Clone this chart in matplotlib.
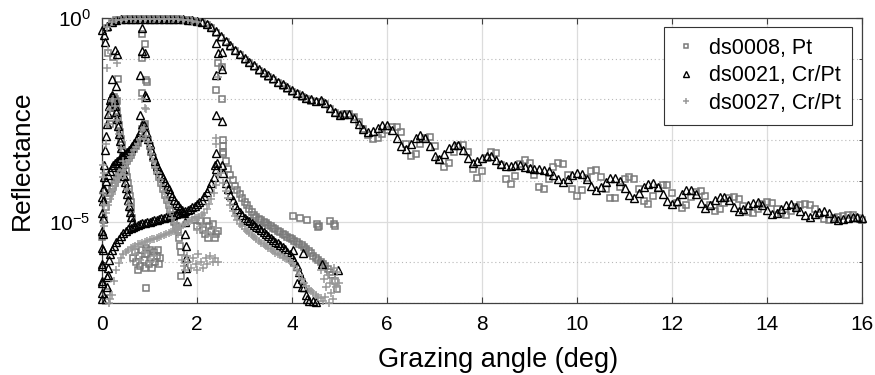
import numpy as np
import matplotlib
matplotlib.use('Agg')
import matplotlib.pyplot as plt
from matplotlib.ticker import FixedLocator, LogFormatterSciNotation, NullFormatter

plt.rcParams['font.family'] = ['Liberation Sans', 'DejaVu Sans']
plt.rcParams['mathtext.fontset'] = 'custom'
plt.rcParams['mathtext.rm'] = 'Liberation Sans'
plt.rcParams['mathtext.it'] = 'Liberation Sans:italic'

# ---- values: log10(reflectance) ----
# specular curves, sampled every 0.1 deg from 0.1 deg
main_start, main_step = 0.1, 0.1
ds0021_main = [
    -0.20, -0.10, -0.05, -0.03, -0.02, -0.02, -0.02, -0.02, -0.02, -0.02,
    -0.02, -0.02, -0.02, -0.02, -0.02, -0.02, -0.03, -0.04, -0.06, -0.08,
    -0.11, -0.15, -0.22, -0.32, -0.45, -0.56, -0.67, -0.78, -0.88, -0.98,
    -1.07, -1.16, -1.25, -1.33, -1.41, -1.48, -1.56, -1.63, -1.70, -1.77,
    -1.83, -1.90, -1.96, -2.00, -2.03, -2.02, -2.08, -2.20, -2.30, -2.38,
    -2.36, -2.35, -2.45, -2.60, -2.72, -2.80, -2.78, -2.70, -2.63, -2.63,
    -2.75, -2.95, -3.15, -3.22, -3.10, -2.95, -2.88, -2.95, -3.15, -3.38,
    -3.47, -3.35, -3.20, -3.12, -3.12, -3.25, -3.45, -3.55, -3.52, -3.45,
    -3.40, -3.40, -3.48, -3.58, -3.64, -3.63, -3.60, -3.62, -3.66, -3.68,
    -3.70, -3.72, -3.74, -3.77, -3.85, -3.95, -4.02, -3.95, -3.85, -3.80,
    -3.82, -3.95, -4.12, -4.22, -4.15, -4.02, -3.93, -3.92, -4.00, -4.18,
    -4.35, -4.41, -4.30, -4.15, -4.07, -4.06, -4.15, -4.32, -4.50, -4.58,
    -4.50, -4.33, -4.23, -4.22, -4.32, -4.55, -4.66, -4.60, -4.48, -4.40,
    -4.39, -4.48, -4.65, -4.75, -4.70, -4.60, -4.54, -4.53, -4.60, -4.72,
    -4.82, -4.80, -4.68, -4.60, -4.58, -4.63, -4.75, -4.85, -4.88, -4.82,
    -4.76, -4.75, -4.80, -4.90, -4.95, -4.94, -4.90, -4.88, -4.88, -4.90]
ds0008_main = [
    -0.25, -0.12, -0.06, -0.04, -0.03, -0.03, -0.03, -0.03, -0.03, -0.03,
    -0.03, -0.03, -0.03, -0.03, -0.03, -0.03, -0.04, -0.05, -0.07, -0.09,
    -0.12, -0.17, -0.25, -0.36, -0.49, -0.60, -0.71, -0.82, -0.92, -1.02,
    -1.11, -1.20, -1.29, -1.37, -1.45, -1.52, -1.60, -1.67, -1.74, -1.81,
    -1.87, -1.94, -2.00, -2.04, -2.07, -2.06, -2.12, -2.24, -2.33, -2.38,
    -2.35, -2.36, -2.42, -2.55, -2.72, -2.88, -2.97, -2.95, -2.85, -2.74,
    -2.68, -2.67, -2.80, -3.10, -3.38, -3.35, -3.10, -2.95, -2.93, -3.15,
    -3.48, -3.67, -3.55, -3.30, -3.14, -3.12, -3.30, -3.70, -3.92, -3.75,
    -3.45, -3.29, -3.32, -3.60, -3.95, -4.08, -3.88, -3.58, -3.48, -3.55,
    -3.85, -4.15, -4.20, -3.95, -3.65, -3.56, -3.58, -3.85, -4.20, -4.38,
    -4.22, -3.92, -3.76, -3.74, -3.90, -4.20, -4.43, -4.42, -4.15, -3.95,
    -3.90, -3.95, -4.20, -4.50, -4.57, -4.38, -4.17, -4.10, -4.10, -4.30,
    -4.55, -4.66, -4.60, -4.40, -4.28, -4.26, -4.38, -4.60, -4.75, -4.70,
    -4.55, -4.42, -4.39, -4.45, -4.62, -4.76, -4.78, -4.68, -4.57, -4.53,
    -4.55, -4.68, -4.80, -4.83, -4.75, -4.65, -4.60, -4.58, -4.60, -4.70,
    -4.85, -4.93, -4.95, -4.90, -4.88, -4.86, -4.84, -4.84, -4.90, -4.96]
ds0027_main = [
    -0.22, -0.11, -0.06, -0.04, -0.03, -0.03, -0.03, -0.03, -0.03, -0.03,
    -0.03, -0.03, -0.03, -0.03, -0.03, -0.03, -0.04, -0.05, -0.07, -0.09]

# ds0021 (Cr/Pt) scans
ds0021_r1_x = [0.01, 0.01, 0.01, 0.02, 0.02, 0.02, 0.03, 0.03, 0.04, 0.05,
               0.07, 0.09, 0.11, 0.13, 0.15, 0.17, 0.19, 0.21, 0.23, 0.25,
               0.27, 0.29, 0.31, 0.33, 0.35, 0.37, 0.39, 0.41, 0.43, 0.45,
               0.47, 0.49, 0.51, 0.53, 0.55, 0.57, 0.59, 0.61, 0.63]
ds0021_r1_y = [-6.9, -6.5, -6.1, -5.7, -5.3, -4.9, -4.5, -4.2, -3.9, -3.6,
               -3.25, -2.9, -2.6, -2.35, -2.15, -2.02, -1.93, -1.9, -1.93, -2.02,
               -2.15, -2.3, -2.48, -2.66, -2.84, -3.02, -3.2, -3.38, -3.55, -3.72,
               -3.88, -4.03, -4.18, -4.33, -4.48, -4.62, -4.76, -4.88, -5.0]
ds0021_r2_left = [-4.2, -4.0, -3.85, -3.75, -3.67, -3.6, -3.55, -3.52, -3.48, -3.43,
                  -3.38, -3.33, -3.28, -3.23, -3.19, -3.14, -3.08, -3.0, -2.92, -2.8,
                  -2.62]                                   # 0.04 .. 0.84, step 0.04
ds0021_r2_right = [-2.62, -2.8, -2.97, -3.1, -3.25, -3.4, -3.52, -3.63, -3.73, -3.83,
                   -3.93, -4.03, -4.12, -4.2, -4.3, -4.38, -4.46, -4.54, -4.6, -4.66,
                   -4.72, -4.8]                            # 0.88 .. 1.72, step 0.04
ds0021_r3_left = [-5.7, -5.6, -5.5, -5.42, -5.35, -5.28, -5.23, -5.19, -5.16, -5.13,
                  -5.1, -5.08, -5.06, -5.04, -5.03, -5.01, -5.0, -4.98, -4.97, -4.95,
                  -4.94, -4.92, -4.91, -4.89, -4.88, -4.86, -4.84, -4.82, -4.8, -4.78,
                  -4.76, -4.74, -4.71, -4.68, -4.65, -4.61, -4.57, -4.52, -4.46, -4.38,
                  -4.28, -4.17, -4.05, -3.9, -3.7]         # 0.2 .. 2.4, step 0.05
ds0021_r3_right = [-3.8, -4.05, -4.2, -4.35, -4.48, -4.6, -4.7, -4.77, -4.84, -4.9,
                   -4.95, -4.99, -5.04, -5.08, -5.13, -5.17, -5.21, -5.26, -5.3, -5.35,
                   -5.4, -5.45, -5.49, -5.53, -5.58, -5.63, -5.68, -5.74, -5.8, -5.88,
                   -5.98, -6.1, -6.25, -6.42, -6.6, -6.8, -6.95]  # 2.55 .. 4.35
ds0021_pts_x = [0.00, 0.05, 0.06, 0.27, 0.31, 0.30, 0.20,
                0.00, 0.00, 0.00, 0.00, 0.13, 0.01, 0.01, 0.00,
                0.84, 0.84, 0.90, 0.80, 0.90, 0.80, 0.93,
                1.74, 1.75, 1.76, 1.77, 1.77, 1.78,
                2.41, 2.45, 2.52, 2.41, 2.52, 2.41, 2.52, 2.41, 2.38, 2.52, 2.43,
                0.09, 0.10, 0.11, 0.12, 0.14, 0.17,
                4.02, 4.23, 4.63, 4.97, 4.10, 4.20, 4.31, 4.44, 4.50]
ds0021_pts_y = [-0.30, -0.42, -0.60, -0.78, -0.88, -1.68, -1.50,
                -5.24, -5.64, -6.05, -6.45, -6.30, -6.75, -4.40, -4.80,
                -0.25, -0.80, -0.87, -1.40, -1.89, -2.38, -1.93,
                -5.00, -5.30, -5.60, -5.90, -6.15, -6.45,
                -0.62, -0.87, -0.83, -1.40, -1.25, -2.38, -2.54, -3.32, -3.60, -3.60, -3.55,
                -6.90, -6.60, -6.35, -6.15, -5.95, -5.80,
                -5.69, -5.77, -6.05, -6.18, -6.50, -6.60, -6.90, -6.96, -6.97]

# ds0008 (Pt) scans
ds0008_r1 = [-2.6, -2.35, -2.15, -2.03, -1.97, -1.95, -2.0, -2.12, -2.28, -2.45,
             -2.62, -2.8, -2.97, -3.13, -3.3, -3.45, -3.6, -3.75, -3.9, -4.05,
             -4.2, -4.36, -4.52, -4.7, -4.9]               # 0.16 .. 0.64, step 0.02
ds0008_r2 = [-4.95, -4.65, -4.45, -4.3, -4.2, -4.12, -4.05, -3.95, -3.85, -3.75,
             -3.67, -3.6, -3.52, -3.45, -3.37, -3.3, -3.22, -3.15, -3.08, -2.95,
             -2.72, -2.66, -2.85, -3.0, -3.15, -3.3, -3.45, -3.6, -3.75, -3.9,
             -4.05, -4.2, -4.35, -4.48, -4.6, -4.72, -4.85, -5.0, -5.1, -5.2]  # 0.04 .. 1.6
ds0008_r3 = [-3.35, -3.52, -3.7, -3.85, -3.99, -4.12, -4.23, -4.33, -4.43, -4.52,
             -4.6, -4.68, -4.76, -4.84, -4.89, -4.93, -4.97, -5.01, -5.04, -5.08,
             -5.11, -5.15, -5.19, -5.23, -5.26, -5.3, -5.33, -5.37, -5.4, -5.43,
             -5.47, -5.51, -5.55, -5.58, -5.62, -5.67, -5.72, -5.78, -5.84, -5.89,
             -5.94, -5.99, -6.04, -6.1, -6.17, -6.24, -6.32, -6.45, -6.65]  # 2.55 .. 4.95
ds0008_pts_x = [0.13, 0.24, 0.33, 0.31,
                0.84, 0.90, 0.84, 0.94, 0.84, 0.93, 0.90,
                2.45, 2.52, 2.41, 2.52, 2.55, 2.55, 2.55,
                1.62, 1.64, 1.66,
                4.03, 4.17, 4.31, 4.53, 4.57, 4.55, 4.80, 4.90, 4.88,
                0.93, 1.67, 0.10, 0.00,
                0.65, 0.70, 0.72, 0.78, 0.80, 0.85, 0.88, 0.90, 0.95, 0.98, 1.00,
                1.03, 1.06, 1.10, 1.12, 1.15, 1.18, 1.20, 1.23, 0.75, 0.93,
                1.96, 2.00, 2.06, 2.12, 2.16, 2.20, 2.23, 2.26, 2.30, 2.34, 2.37, 2.40, 2.44]
ds0008_pts_y = [-0.85, -0.95, -1.50, -2.05,
                -0.40, -0.65, -0.98, -1.56, -1.85, -1.53, -2.60,
                -1.11, -1.20, -1.76, -2.00, -2.99, -3.15, -3.30,
                -5.40, -5.60, -5.75,
                -4.87, -4.91, -4.95, -5.05, -5.10, -5.13, -4.99, -5.11, -5.05,
                -6.62, -6.34, -6.74, -5.37,
                -5.90, -5.75, -6.00, -5.85, -6.10, -5.70, -5.95, -6.15, -5.80, -6.05, -5.70,
                -5.90, -6.15, -5.75, -6.00, -5.85, -5.70, -6.05, -5.90, -6.20, -5.65,
                -4.95, -5.10, -4.99, -5.20, -5.30, -4.99, -5.40, -5.10, -5.24, -5.05, -5.40, -5.30, -5.24]

# ds0027 (Cr/Pt) scans
ds0027_r1 = [-3.8, -3.1, -2.6, -2.25, -2.05, -2.0, -2.15, -2.5, -2.85, -3.2,
             -3.5, -3.85, -4.2, -4.6]                      # 0.04 .. 0.56, step 0.04
ds0027_r2_left = [-5.1, -4.8, -4.6, -4.45, -4.33, -4.22, -4.12, -4.02, -3.92, -3.82,
                  -3.73, -3.65, -3.57, -3.49, -3.41, -3.33, -3.25, -3.18, -3.1, -2.98,
                  -2.75]                                   # 0.04 .. 0.84, step 0.04
ds0027_r2_right = [-2.7, -2.9, -3.05, -3.2, -3.35, -3.5, -3.65, -3.8, -3.95, -4.1,
                   -4.25, -4.4, -4.53, -4.65, -4.77, -4.9, -5.03, -5.15, -5.3]  # 0.88 .. 1.6
ds0027_r3_left = [-6.8, -6.45, -6.2, -6.02, -5.9, -5.8, -5.74, -5.69, -5.65, -5.62,
                  -5.59, -5.56, -5.54, -5.52, -5.5, -5.48, -5.46, -5.44, -5.42, -5.4,
                  -5.38, -5.35, -5.33, -5.31, -5.29, -5.26, -5.23, -5.2, -5.17, -5.13,
                  -5.09, -5.06, -5.02, -4.98, -4.95, -4.92, -4.9, -4.88, -4.85, -4.78,
                  -4.68, -4.57, -4.45, -4.3, -4.1, -3.85]  # 0.2 .. 2.45, step 0.05
ds0027_r3_right = [-3.8, -4.05, -4.25, -4.43, -4.6, -4.75, -4.87, -4.97, -5.05, -5.12,
                   -5.18, -5.23, -5.28, -5.33, -5.38, -5.43, -5.48, -5.52, -5.56, -5.6,
                   -5.64, -5.68, -5.72, -5.76, -5.8, -5.83, -5.87, -5.9, -5.93, -5.96,
                   -6.02, -6.1, -6.2, -6.3, -6.4, -6.5, -6.58, -6.65, -6.7, -6.75,
                   -6.8, -6.85, -6.88]                     # 2.5 .. 4.6, step 0.05
ds0027_pts_x = [0.10, 0.31, 0.13, 0.02, 0.03, 0.02, 0.04, 0.03,
                0.84, 0.90, 0.93, 2.41, 2.45, 2.40, 0.15, 0.17,
                1.68, 1.72, 1.78, 1.82, 1.88, 1.92, 1.98, 2.03, 2.08, 2.12, 2.18, 2.22,
                2.28, 2.33, 2.38, 2.45, 1.75, 2.00,
                2.00, 2.10, 2.20, 2.30, 2.40,
                4.62, 4.68, 4.72, 4.75, 4.80, 4.83, 4.86, 4.90, 4.93, 4.95, 4.98,
                4.70, 4.78, 4.65, 4.88,
                0.70, 0.80, 0.90, 1.00, 1.10]
ds0027_pts_y = [-1.23, -1.11, -0.78, -3.60, -3.90, -4.30, -4.60, -5.00,
                -1.98, -2.20, -2.24, -2.94, -1.45, -3.10, -7.00, -6.90,
                -5.95, -6.10, -5.85, -6.00, -6.15, -5.90, -6.05, -5.80, -6.00, -6.15, -5.90, -6.05,
                -5.85, -6.00, -5.90, -6.00, -6.20, -6.20,
                -5.20, -5.10, -5.25, -5.35, -5.15,
                -6.20, -6.40, -6.60, -6.30, -6.50, -6.75, -6.90, -6.40, -6.60, -6.25, -6.50,
                -6.85, -7.00, -6.95, -6.15,
                -5.80, -5.95, -5.75, -6.00, -5.85]

labels = ['ds0008, Pt', 'ds0021, Cr/Pt', 'ds0027, Cr/Pt']


def on_grid(start, step, logr):
    x = np.round(start + step * np.arange(len(logr)), 3)
    return x, np.asarray(logr, dtype=float)


def collect(*parts):
    xs = np.concatenate([np.asarray(p[0], dtype=float) for p in parts])
    ys = np.concatenate([np.asarray(p[1], dtype=float) for p in parts])
    return xs, 10.0 ** ys


sq_x, sq_y = collect(on_grid(main_start, main_step, ds0008_main),
                     on_grid(0.16, 0.02, ds0008_r1),
                     on_grid(0.04, 0.04, ds0008_r2),
                     on_grid(2.55, 0.05, ds0008_r3),
                     (ds0008_pts_x, ds0008_pts_y))
tr_x, tr_y = collect(on_grid(main_start, main_step, ds0021_main),
                     (ds0021_r1_x, ds0021_r1_y),
                     on_grid(0.04, 0.04, ds0021_r2_left),
                     on_grid(0.88, 0.04, ds0021_r2_right),
                     on_grid(0.2, 0.05, ds0021_r3_left),
                     on_grid(2.55, 0.05, ds0021_r3_right),
                     (ds0021_pts_x, ds0021_pts_y))
pl_x, pl_y = collect(on_grid(main_start, main_step, ds0027_main),
                     on_grid(0.04, 0.04, ds0027_r1),
                     on_grid(0.04, 0.04, ds0027_r2_left),
                     on_grid(0.88, 0.04, ds0027_r2_right),
                     on_grid(0.2, 0.05, ds0027_r3_left),
                     on_grid(2.5, 0.05, ds0027_r3_right),
                     (ds0027_pts_x, ds0027_pts_y))

fig = plt.figure(figsize=(8.75, 3.75), dpi=100)
ax = fig.add_axes([102 / 875, 1 - 303 / 375, 760 / 875, 285 / 375])

h1, = ax.plot(sq_x, sq_y, ls='none', marker='s', ms=4.4, mfc='none',
              mec='#7a7a7a', mew=1.1, clip_on=False, label=labels[0], zorder=3)
h2, = ax.plot(tr_x, tr_y, ls='none', marker='^', ms=5.8, mfc='none',
              mec='black', mew=1.0, clip_on=False, label=labels[1], zorder=4)
h3, = ax.plot(pl_x, pl_y, ls='none', marker='+', ms=6.0,
              mec='#9a9a9a', mew=1.1, clip_on=False, label=labels[2], zorder=5)

ax.set_yscale('log')
ax.set_xlim(0, 16)
ax.set_ylim(1e-7, 1e0)
ax.set_xticks(np.arange(0, 17, 2))
ax.yaxis.set_major_locator(FixedLocator([1e-5, 1e0]))
ax.yaxis.set_major_formatter(LogFormatterSciNotation())
ax.yaxis.set_minor_locator(FixedLocator([1e-7, 1e-6, 1e-4, 1e-3, 1e-2, 1e-1]))
ax.yaxis.set_minor_formatter(NullFormatter())

ax.set_axisbelow(True)
ax.grid(True, which='major', color='#dcdcdc', lw=0.9, ls='-')
ax.grid(True, which='minor', axis='y', color='#b8b8b8', lw=0.8, ls=(0, (1, 2.5)))

ax.tick_params(which='both', direction='in', top=True, right=True,
               color='#404040', labelcolor='black', labelsize=15)
ax.tick_params(which='major', length=4, width=0.8)
ax.tick_params(axis='x', which='major', pad=9)
ax.tick_params(axis='y', which='major', pad=8)
ax.tick_params(which='minor', length=2.5, width=0.7)
for s in ax.spines.values():
    s.set_color('#404040')
    s.set_linewidth(0.9)

ax.set_xlabel('Grazing angle (deg)', fontsize=19.5, labelpad=7)
ax.xaxis.set_label_coords(0.521, -0.155)
ax.set_ylabel('Reflectance', fontsize=19, labelpad=11)

leg = ax.legend(handles=[h1, h2, h3], loc='upper right',
                bbox_to_anchor=(0.987, 0.968), borderaxespad=0,
                fontsize=15.5, fancybox=False, framealpha=1, edgecolor='#333333',
                handlelength=1.0, handletextpad=0.6, labelspacing=0.3,
                borderpad=0.5, markerscale=0.65)
leg.get_frame().set_linewidth(0.8)

fig.savefig('out.png', dpi=100)
